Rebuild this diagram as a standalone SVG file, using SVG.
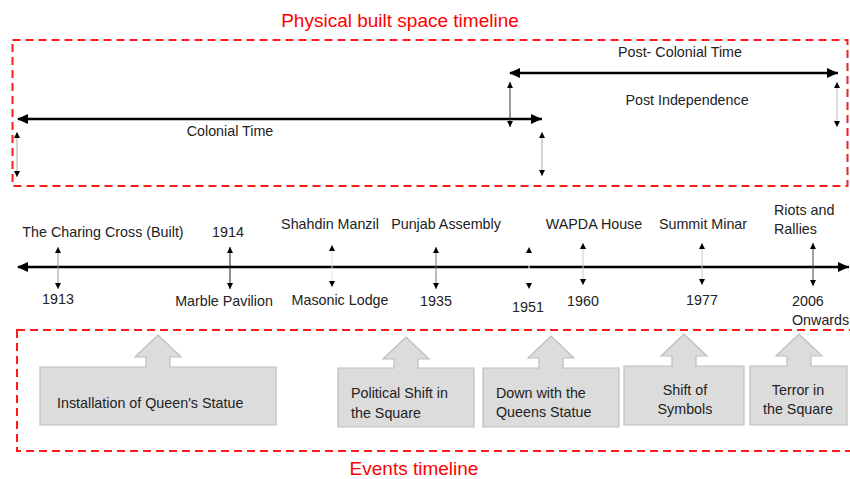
<svg xmlns="http://www.w3.org/2000/svg" width="850" height="479" viewBox="0 0 850 479">
<style>
text{font-family:"Liberation Sans",Arial,sans-serif;font-size:14.3px;fill:#222}
.red{fill:#ff0000;font-size:19px}
.frame{fill:none;stroke:#ff1a1a;stroke-width:2;stroke-dasharray:8 5}
.big{stroke:#000;stroke-width:2.5;fill:none;marker-start:url(#bs);marker-end:url(#be)}
.tick{stroke-width:1;fill:none;marker-start:url(#ss);marker-end:url(#se)}
.ev{fill:#dcdcdc;stroke:#bdbdbd;stroke-width:1.2}
.c{text-anchor:middle}
</style>
<defs>
<marker id="be" markerUnits="userSpaceOnUse" markerWidth="12" markerHeight="10" refX="11" refY="5" orient="auto"><path d="M0,0 L11,5 L0,10 Z" fill="#000"/></marker>
<marker id="bs" markerUnits="userSpaceOnUse" markerWidth="12" markerHeight="10" refX="1" refY="5" orient="auto"><path d="M11,0 L0,5 L11,10 Z" fill="#000"/></marker>
<marker id="se" markerUnits="userSpaceOnUse" markerWidth="7" markerHeight="6" refX="6" refY="3" orient="auto"><path d="M0,0 L6,3 L0,6 Z" fill="#000"/></marker>
<marker id="ss" markerUnits="userSpaceOnUse" markerWidth="7" markerHeight="6" refX="0" refY="3" orient="auto"><path d="M6,0 L0,3 L6,6 Z" fill="#000"/></marker>
</defs>

<g id="frames">
<rect class="frame" x="12.5" y="40" width="835" height="146"/>
<rect class="frame" x="17" y="330" width="845" height="121"/>
<text class="red c" x="400" y="27">Physical built space timeline</text>
<text class="red c" x="414" y="475">Events timeline</text>
</g>

<g id="connectors">
<line class="big" x1="18" y1="119" x2="542" y2="119"/>
<line class="big" x1="510" y1="73" x2="838" y2="73"/>
<line class="big" x1="18" y1="267" x2="849" y2="267"/>
<line class="tick" stroke="#aaa" x1="17" y1="132" x2="17" y2="177"/>
<line class="tick" stroke="#333" x1="510" y1="82" x2="510" y2="127"/>
<line class="tick" stroke="#aaa" x1="542" y1="132" x2="542" y2="176"/>
<line class="tick" stroke="#bbb" x1="837" y1="82" x2="837" y2="127"/>
<line class="tick" stroke="#999" x1="58" y1="247" x2="58" y2="289"/>
<line class="tick" stroke="#222" x1="230" y1="247" x2="230" y2="289"/>
<line class="tick" stroke="#e0e0e0" x1="332" y1="245" x2="332" y2="287"/>
<line class="tick" stroke="#777" x1="436" y1="247" x2="436" y2="289"/>
<line class="tick" stroke="#fff" x1="529" y1="247" x2="529" y2="289"/>
<line class="tick" stroke="#ccc" x1="583" y1="243" x2="583" y2="285"/>
<line class="tick" stroke="#ccc" x1="702" y1="243" x2="702" y2="285"/>
<line class="tick" stroke="#444" x1="813" y1="243" x2="813" y2="286"/>
</g>

<g id="periods">
<text class="c" x="230" y="136">Colonial Time</text>
<text class="c" x="680" y="57">Post- Colonial Time</text>
<text class="c" x="687" y="105">Post Independence</text>
</g>

<g id="milestones">
<text class="c" x="103" y="237">The Charing Cross (Built)</text>
<text class="c" x="58" y="304">1913</text>
<text class="c" x="228" y="237">1914</text>
<text class="c" x="224" y="306">Marble Pavilion</text>
<text class="c" x="330" y="229">Shahdin Manzil</text>
<text class="c" x="340" y="305">Masonic Lodge</text>
<text class="c" x="446" y="229">Punjab Assembly</text>
<text class="c" x="436" y="306">1935</text>
<text class="c" x="528" y="312">1951</text>
<text class="c" x="594" y="229">WAPDA House</text>
<text class="c" x="583" y="306">1960</text>
<text class="c" x="703" y="229">Summit Minar</text>
<text class="c" x="702" y="305">1977</text>
<text x="774" y="215">Riots and</text>
<text x="774" y="234">Rallies</text>
<text x="792" y="306">2006</text>
<text x="792" y="325">Onwards</text>
</g>

<g id="event1">
<path class="ev" d="M40,367 H146 V357 H135 L158,335 L181,357 H170 V367 H276 V425 H40 Z"/>
<text x="57" y="408">Installation of Queen's Statue</text>
</g>
<g id="event2">
<path class="ev" d="M338,368 H394 V359 H383 L406,337 L429,359 H418 V368 H474 V427 H338 Z"/>
<text x="351" y="398">Political Shift in</text>
<text x="351" y="418">the Square</text>
</g>
<g id="event3">
<path class="ev" d="M483,368 H539 V358 H528 L551,336 L574,358 H563 V368 H619 V427 H483 Z"/>
<text x="496" y="398">Down with the</text>
<text x="496" y="417">Queens Statue</text>
</g>
<g id="event4">
<path class="ev" d="M624,366 H672 V356 H661 L684,334 L707,356 H696 V366 H744 V425 H624 Z"/>
<text class="c" x="685" y="395">Shift of</text>
<text class="c" x="685" y="414">Symbols</text>
</g>
<g id="event5">
<path class="ev" d="M750,366 H787 V356 H776 L799,334 L822,356 H811 V366 H847 V425 H750 Z"/>
<text class="c" x="798" y="395">Terror in</text>
<text class="c" x="798" y="414">the Square</text>
</g>
</svg>
